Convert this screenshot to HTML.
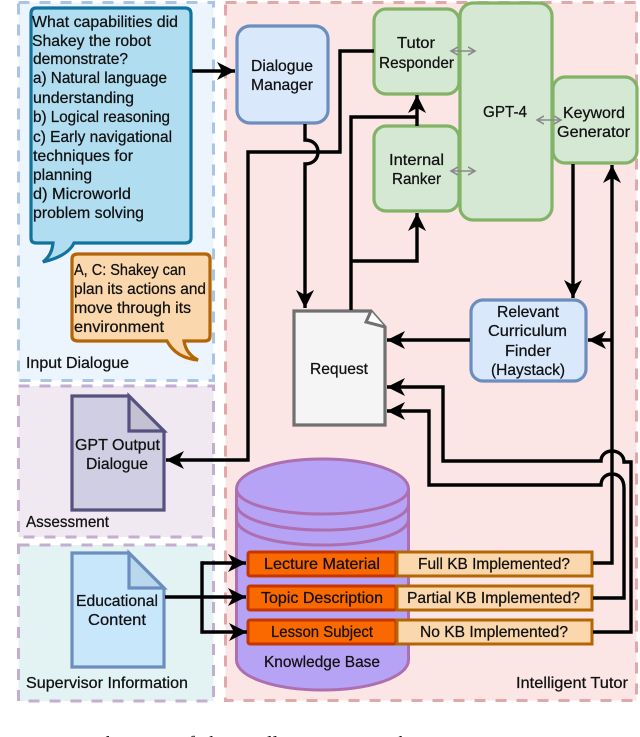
<!DOCTYPE html>
<html><head><meta charset="utf-8">
<style>
html,body{margin:0;padding:0;background:#fff;width:640px;height:737px;overflow:hidden}
svg{display:block}
text{font-family:"Liberation Sans",sans-serif;font-size:16px;fill:#111;stroke:#111;stroke-width:.25}
.k{fill:none;stroke:#000;stroke-width:3.4}
.g{fill:none;stroke:#8a8a8a;stroke-width:1.6}
.gb{fill:#d5e8d4;stroke:#82b366;stroke-width:3.2}
</style></head><body>
<svg width="640" height="737" viewBox="0 0 640 737" xmlns="http://www.w3.org/2000/svg">
<defs>
<marker id="a" markerUnits="userSpaceOnUse" markerWidth="22" markerHeight="22" refX="18" refY="11" orient="auto"><path d="M0 2L18 11L0 20L5 11Z" fill="#000"/></marker>
<marker id="g" markerUnits="userSpaceOnUse" markerWidth="10" markerHeight="10" refX="7" refY="5" orient="auto-start-reverse"><path d="M0 1L7 5L0 9" fill="none" stroke="#8a8a8a" stroke-width="1.6"/></marker>
</defs>
<!-- panels -->
<rect x="18.5" y="2.5" width="195" height="378" fill="#ecf4fd" stroke="#a9c4e4" stroke-width="3" stroke-dasharray="11 10"/>
<rect x="18.5" y="386" width="195" height="151" fill="#f0e9f1" stroke="#c3aed0" stroke-width="3" stroke-dasharray="11 10"/>
<rect x="18.5" y="545" width="195" height="156" fill="#e3f2f2" stroke="#c3aed0" stroke-width="3" stroke-dasharray="11 10"/>
<rect x="225.5" y="2.5" width="411" height="698" fill="#fbe5e5" stroke="#e0a8a8" stroke-width="3" stroke-dasharray="11 10"/>
<!-- callouts -->
<path d="M36 8H185Q191 8 191 14V238Q191 243 185 243H74Q68 256 43 262Q52 255 53 243H36Q31 243 31 238V14Q31 8 36 8Z" fill="#b1ddf0" stroke="#10739e" stroke-width="3.2"/>
<path d="M78 254H205Q210 254 210 259V336Q210 341 205 341H184Q186 354 198 360Q176 358 167 341H78Q72 341 72 336V259Q72 254 78 254Z" fill="#fad7ac" stroke="#b46504" stroke-width="3.2"/>
<!-- nodes -->
<rect x="237" y="26" width="91" height="97" rx="13" fill="#dae8fc" stroke="#6c8ebf" stroke-width="3.2"/>
<rect x="460" y="3" width="92" height="217" rx="13" class="gb"/>
<rect x="374" y="9" width="85" height="85" rx="12" class="gb"/>
<rect x="374" y="126" width="85" height="85" rx="12" class="gb"/>
<rect x="553" y="77" width="84" height="86" rx="12" class="gb"/>
<rect x="471" y="300" width="115" height="81" rx="12" fill="#dae8fc" stroke="#6c8ebf" stroke-width="3.2"/>
<!-- request -->
<path d="M294 311H371L385 327V425H294Z" fill="#f5f5f5" stroke="#707070" stroke-width="3.2"/>
<path d="M371 311L366 322L385 327" fill="#fff" stroke="#707070" stroke-width="3"/>
<!-- docs -->
<path d="M72 396H129L164 431V510H72Z" fill="#d0cee2" stroke="#56517e" stroke-width="3.2"/>
<path d="M129 396V431H164Z" fill="#c4c2d2" stroke="#56517e" stroke-width="3.2"/>
<path d="M72 553H129L164 588V667H72Z" fill="#c9e7fb" stroke="#6c8ebf" stroke-width="3.2"/>
<path d="M129 553V588H164Z" fill="#b9d8ec" stroke="#6c8ebf" stroke-width="3.2"/>
<!-- cylinder -->
<path d="M236.500 489C236.500 472 275 459 322.500 459S408.500 472 408.500 489V660C408.500 677 370 690 322.500 690S236.500 677 236.500 660Z" fill="#b7a3f6" stroke="#ad6fb0" stroke-width="3"/>
<path d="M236.500 489C236.500 503 275 514 322.500 514S408.500 503 408.500 489M236.500 504C236.500 519 275 530 322.500 530S408.500 519 408.500 504M236.500 519C236.500 534 275 545 322.500 545S408.500 534 408.500 519" fill="none" stroke="#ad6fb0" stroke-width="3"/>
<!-- bars -->
<g fill="#fa6800" stroke="#c73500" stroke-width="3">
<rect x="248" y="552" width="148" height="24" rx="2"/>
<rect x="248" y="586" width="148" height="24" rx="2"/>
<rect x="248" y="620" width="148" height="24" rx="2"/>
</g>
<g fill="#fad7ac" stroke="#b46504" stroke-width="3">
<rect x="397" y="552" width="195" height="24"/>
<rect x="397" y="586" width="195" height="24"/>
<rect x="397" y="620" width="195" height="24"/>
</g>
<!-- connectors -->
<path class="k" d="M192 71H235" marker-end="url(#a)"/>
<path class="k" d="M305 124V140C314 140 318 146 318 152C318 158 314 164 305 164V308" marker-end="url(#a)"/>
<path class="k" d="M374 51H340V152H248V460H166" marker-end="url(#a)"/>
<path class="k" d="M351 310V117H417"/>
<path class="k" d="M417 126V95" marker-end="url(#a)"/>
<path class="k" d="M351 261H417V213" marker-end="url(#a)"/>
<path class="k" d="M573 164V298" marker-end="url(#a)"/>
<path class="k" d="M593 563H612V165" marker-end="url(#a)"/>
<path class="k" d="M612 340H588" marker-end="url(#a)"/>
<path class="k" d="M470 340H387" marker-end="url(#a)"/>
<path class="k" d="M593 598H624V488C624 478 618 474 612 474C606 474 601 478 601 485H429V411H387" marker-end="url(#a)"/>
<path class="k" d="M593 632H631V462H624C624 455 618 451 612 451C606 451 601 455 601 461H443V387H387" marker-end="url(#a)"/>
<path class="k" d="M165 597H246" marker-end="url(#a)"/>
<path class="k" d="M202 561.300V633.700"/>
<path class="k" d="M202 563H246" marker-end="url(#a)"/>
<path class="k" d="M202 632H247" marker-end="url(#a)"/>
<path class="g" d="M451 51H475" marker-start="url(#g)" marker-end="url(#g)"/>
<path class="g" d="M451 171H475" marker-start="url(#g)" marker-end="url(#g)"/>
<path class="g" d="M537 120H561" marker-start="url(#g)" marker-end="url(#g)"/>
<!-- text -->
<g>
<text x="32" y="27" textLength="146" lengthAdjust="spacingAndGlyphs">What capabilities did</text>
<text x="32" y="46" textLength="119" lengthAdjust="spacingAndGlyphs">Shakey the robot</text>
<text x="33" y="64" textLength="95" lengthAdjust="spacingAndGlyphs">demonstrate?</text>
<text x="33" y="83" textLength="134" lengthAdjust="spacingAndGlyphs">a) Natural language</text>
<text x="33" y="103" textLength="101" lengthAdjust="spacingAndGlyphs">understanding</text>
<text x="33" y="122" textLength="137" lengthAdjust="spacingAndGlyphs">b) Logical reasoning</text>
<text x="33" y="142" textLength="139" lengthAdjust="spacingAndGlyphs">c) Early navigational</text>
<text x="33" y="161" textLength="100" lengthAdjust="spacingAndGlyphs">techniques for</text>
<text x="33" y="180" textLength="59" lengthAdjust="spacingAndGlyphs">planning</text>
<text x="33" y="199" textLength="98" lengthAdjust="spacingAndGlyphs">d) Microworld</text>
<text x="33" y="218" textLength="111" lengthAdjust="spacingAndGlyphs">problem solving</text>
<text x="74" y="275" textLength="112" lengthAdjust="spacingAndGlyphs">A, C: Shakey can</text>
<text x="74" y="294" textLength="132" lengthAdjust="spacingAndGlyphs">plan its actions and</text>
<text x="74" y="313" textLength="117" lengthAdjust="spacingAndGlyphs">move through its</text>
<text x="74" y="332" textLength="90" lengthAdjust="spacingAndGlyphs">environment</text>
<text x="26" y="368" textLength="103" lengthAdjust="spacingAndGlyphs">Input Dialogue</text>
<text x="26" y="527" textLength="83" lengthAdjust="spacingAndGlyphs">Assessment</text>
<text x="26" y="688" textLength="162" lengthAdjust="spacingAndGlyphs">Supervisor Information</text>
<text x="516" y="688" textLength="112" lengthAdjust="spacingAndGlyphs">Intelligent Tutor</text>
<text x="251" y="71" textLength="62" lengthAdjust="spacingAndGlyphs">Dialogue</text>
<text x="251" y="90" textLength="62" lengthAdjust="spacingAndGlyphs">Manager</text>
<text x="397" y="48" textLength="38" lengthAdjust="spacingAndGlyphs">Tutor</text>
<text x="379" y="68" textLength="75" lengthAdjust="spacingAndGlyphs">Responder</text>
<text x="483" y="117" textLength="44" lengthAdjust="spacingAndGlyphs">GPT-4</text>
<text x="563" y="118" textLength="62" lengthAdjust="spacingAndGlyphs">Keyword</text>
<text x="557" y="137" textLength="73" lengthAdjust="spacingAndGlyphs">Generator</text>
<text x="389" y="165" textLength="55" lengthAdjust="spacingAndGlyphs">Internal</text>
<text x="392" y="184" textLength="49" lengthAdjust="spacingAndGlyphs">Ranker</text>
<text x="497" y="317" textLength="62" lengthAdjust="spacingAndGlyphs">Relevant</text>
<text x="488" y="336" textLength="79" lengthAdjust="spacingAndGlyphs">Curriculum</text>
<text x="505" y="356" textLength="46" lengthAdjust="spacingAndGlyphs">Finder</text>
<text x="491" y="375" textLength="74" lengthAdjust="spacingAndGlyphs">(Haystack)</text>
<text x="310" y="374" textLength="58" lengthAdjust="spacingAndGlyphs">Request</text>
<text x="75" y="450" textLength="85" lengthAdjust="spacingAndGlyphs">GPT Output</text>
<text x="86" y="469" textLength="62" lengthAdjust="spacingAndGlyphs">Dialogue</text>
<text x="76" y="606" textLength="82" lengthAdjust="spacingAndGlyphs">Educational</text>
<text x="88" y="625" textLength="58" lengthAdjust="spacingAndGlyphs">Content</text>
<text x="264" y="569" textLength="116" lengthAdjust="spacingAndGlyphs">Lecture Material</text>
<text x="261" y="603" textLength="122" lengthAdjust="spacingAndGlyphs">Topic Description</text>
<text x="271" y="637" textLength="102" lengthAdjust="spacingAndGlyphs">Lesson Subject</text>
<text x="264" y="667" textLength="116" lengthAdjust="spacingAndGlyphs">Knowledge Base</text>
<text x="418" y="569" textLength="152" lengthAdjust="spacingAndGlyphs">Full KB Implemented?</text>
<text x="407" y="603" textLength="173" lengthAdjust="spacingAndGlyphs">Partial KB Implemented?</text>
<text x="420" y="637" textLength="148" lengthAdjust="spacingAndGlyphs">No KB Implemented?</text>
<text x="0" y="750" style="font-family:'Liberation Serif',serif;font-size:20px;stroke:none;word-spacing:4px">Figure 1: Schematic of the intelligent tutor architecture</text>
</g>
</svg>
</body></html>
